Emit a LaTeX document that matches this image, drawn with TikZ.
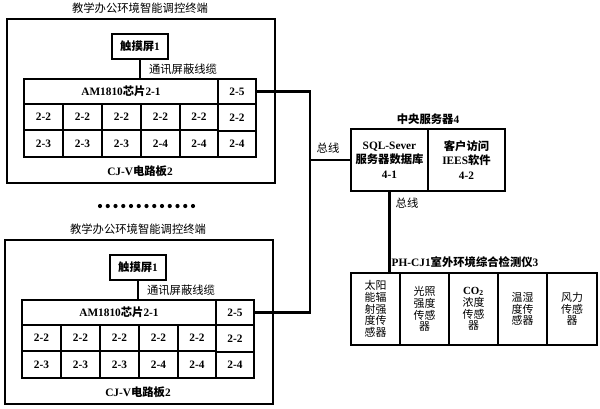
\documentclass[tikz,border=0pt]{standalone}
\usepackage{fontspec}
\setmainfont{Liberation Serif}
\newfontfamily\cjk{Noto Sans CJK SC}
\newcommand\zh[1]{{\cjk #1}}
\tikzset{
  cellst/.style={draw, line width=1.7pt, inner sep=0pt, align=center,
    font=\fontsize{8.5}{10}\selectfont\bfseries},
  srvst/.style={cellst, font=\fontsize{8.5}{11}\selectfont\bfseries},
  sensst/.style={draw, line width=1.7pt, inner sep=0pt, align=center,
    font=\fontsize{8.2}{8.8}\selectfont},
  lbl/.style={inner sep=0pt, font=\fontsize{8.5}{10}\selectfont},
  blbl/.style={inner sep=0pt, font=\fontsize{8.5}{10}\selectfont\bfseries},
  ln/.style={line width=1.7pt},
}
% name, x1, y1, x2, y2, text
\newcommand\cellbox[6]{\node[cellst, minimum width={(#4-#2)*0.75pt}, minimum height={(#5-#3)*0.75pt}] (#1) at ({(#2+#4)/2},{(#3+#5)/2}) {#6};}
\newcommand\srvcell[6]{\node[srvst, minimum width={(#4-#2)*0.75pt}, minimum height={(#5-#3)*0.75pt}] (#1) at ({(#2+#4)/2},{(#3+#5)/2}) {#6};}
\newcommand\sensbox[6]{\node[sensst, minimum width={(#4-#2)*0.75pt}, minimum height={(#5-#3)*0.75pt}] (#1) at ({(#2+#4)/2},{(#3+#5)/2}) {#6};}
\newcommand\terminal[3]{%
\begin{scope}[shift={(#2,#3)}]
  \node[lbl] (#1title) at (140,8) {\zh{教学办公环境智能调控终端}};
  \cellbox{#1outer}{7}{19}{275}{183}{}
  \cellbox{#1ts}{112}{34}{168}{59}{\zh{触摸屏}1}
  \node[lbl] (#1cable) at (183,69) {\zh{通讯屏蔽线缆}};
  \cellbox{#1chip}{24}{79}{218}{104}{AM1810\zh{芯片}2-1}
  \cellbox{#1c25}{218}{79}{256}{104}{2-5}
  \cellbox{#1a1}{24}{104}{63}{130}{2-2}
  \cellbox{#1a2}{63}{104}{102}{130}{2-2}
  \cellbox{#1a3}{102}{104}{141}{130}{2-2}
  \cellbox{#1a4}{141}{104}{180}{130}{2-2}
  \cellbox{#1a5}{180}{104}{218}{130}{2-2}
  \cellbox{#1b1}{24}{130}{63}{157}{2-3}
  \cellbox{#1b2}{63}{130}{102}{157}{2-3}
  \cellbox{#1b3}{102}{130}{141}{157}{2-3}
  \cellbox{#1b4}{141}{130}{180}{157}{2-4}
  \cellbox{#1b5}{180}{130}{218}{157}{2-4}
  \cellbox{#1r2}{218}{104}{256}{131}{2-2}
  \cellbox{#1r3}{218}{131}{256}{157}{2-4}
  \node[blbl] (#1board) at (140,171) {CJ-V\zh{电路板}2};
  \draw[ln] (#1ts.south) -- (#1ts.south |- #1chip.north);
\end{scope}}
\begin{document}
\begin{tikzpicture}[x=0.75pt,y=-0.75pt]
  \useasboundingbox (0,0) rectangle (600,408);
  \terminal{t}{0}{0}
  \terminal{b}{-2}{221}
  % dots
  \foreach \i in {0,...,12} \fill ({100+\i*7.75},206) circle (2.1);
  % bus
  \coordinate (busx) at (310,0);
  \draw[ln] (tc25.east) -- (tc25.east -| busx) -- (bc25.east -| busx) -- (bc25.east);
  % server
  \node[blbl] (srvtitle) at (428,119) {\zh{中央服务器}4};
  \srvcell{srv1}{351}{129}{428}{191}{SQL-Sever\\\zh{服务器数据库}\\4-1}
  \srvcell{srv2}{428}{129}{505}{191}{\zh{客户访问}\\IEES\zh{软件}\\4-2}
  \coordinate (busmid) at (310,160);
  \draw[ln] (busmid) -- (srv1.west);
  \node[lbl] (bus1) at (328,148) {\zh{总线}};
  % instrument
  \node[blbl] (insttitle) at (465,262) {PH-CJ1\zh{室外环境综合检测仪}3};
  \sensbox{s1}{351}{273}{400}{345}{\zh{太阳}\\\zh{能辐}\\\zh{射强}\\\zh{度传}\\\zh{感器}}
  \sensbox{s2}{400}{273}{449}{345}{\zh{光照}\\\zh{强度}\\\zh{传感}\\\zh{器}}
  \sensbox{s3}{449}{273}{498}{345}{\textbf{CO\textsubscript{2}}\\\zh{浓度}\\\zh{传感}\\\zh{器}}
  \sensbox{s4}{498}{273}{547}{345}{\zh{温湿}\\\zh{度传}\\\zh{感器}}
  \sensbox{s5}{547}{273}{597}{345}{\zh{风力}\\\zh{传感}\\\zh{器}}
  \draw[ln] (srv1.south) -- (srv1.south |- s1.north);
  \node[lbl] (bus2) at (407,203) {\zh{总线}};
\end{tikzpicture}
\end{document}
